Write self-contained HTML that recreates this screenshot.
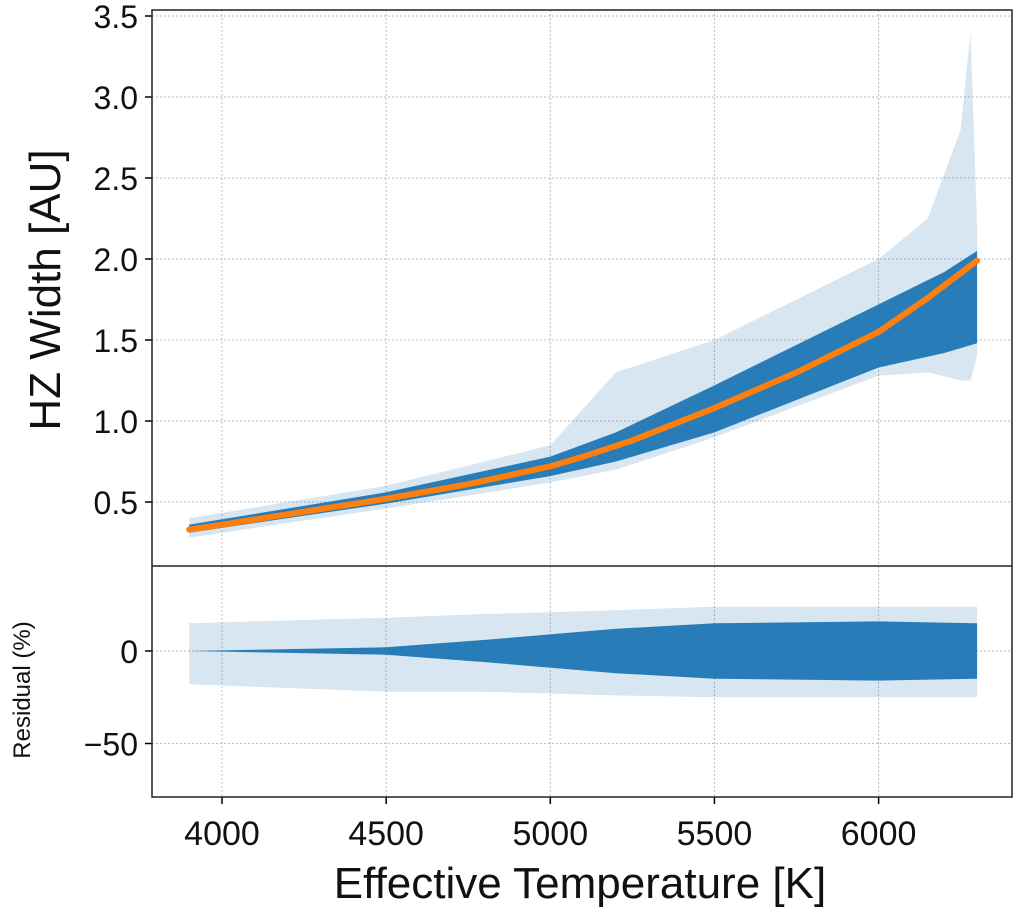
<!DOCTYPE html>
<html><head><meta charset="utf-8"><style>
body{margin:0;background:#fff;font-family:"Liberation Sans",sans-serif}
</style></head><body>
<svg id="c" width="1020" height="916" xmlns="http://www.w3.org/2000/svg" font-family="Liberation Sans, sans-serif"></svg>
<script>
const xTicks=[4000,4500,5000,5500,6000];
const yTicks=[0.5,1.0,1.5,2.0,2.5,3.0,3.5];
const rTicks=[0,-50];
const fitT=[3900,4000,4250,4500,4750,5000,5100,5250,5500,5750,6000,6150,6300];
const fitV=[0.33,0.36,0.44,0.52,0.61,0.72,0.78,0.88,1.08,1.30,1.55,1.76,1.99];
const coreT=[3900,4500,5000,5200,5500,6000,6200,6300];
const coreLo=[0.31,0.49,0.66,0.75,0.93,1.33,1.42,1.48];
const coreHi=[0.36,0.56,0.78,0.93,1.22,1.72,1.92,2.05];
const envT=[3900,4500,5000,5200,5500,6000,6150,6250,6280,6300];
const envLo=[0.28,0.46,0.62,0.70,0.90,1.28,1.30,1.25,1.25,1.40];
const envHi=[0.40,0.60,0.85,1.30,1.50,2.00,2.25,2.80,3.40,2.20];
const resT=[3900,4500,4800,5200,5500,6000,6300];
const resCoreLo=[0,-2,-6,-12,-15,-16,-15];
const resCoreHi=[0,2,6,12,15,16,15];
const resEnvLo=[-18,-22,-22,-24,-25,-25,-25];
const resEnvHi=[15,18,20,22,24,24,24];

const X=t=>222+(t-4000)*0.3283;
const Y=v=>259-(v-2)*162;
const R=v=>651-v*1.85;
const svg=document.getElementById('c');
const NS='http://www.w3.org/2000/svg';
function el(tag,attrs,name,parent){const e=document.createElementNS(NS,tag);for(const k in attrs)e.setAttribute(k,attrs[k]);


(parent||svg).appendChild(e);return e;}
const L=152,Rt=1012,T0=10,M=566,B=797;
xTicks.forEach(t=>{
 el('line',{x1:X(t),x2:X(t),y1:T0,y2:B,stroke:'#bbb','stroke-dasharray':'2,2','stroke-width':1},'x-grid');
 el('line',{x1:X(t),x2:X(t),y1:B,y2:B+7,stroke:'#000','stroke-width':1.5},'x-tick');
 const tx=el('text',{x:X(t),y:B+48,'font-size':34,'text-anchor':'middle',fill:'#111'},'x-tick-label');tx.textContent=t;
});
yTicks.forEach(v=>{
 el('line',{x1:L,x2:Rt,y1:Y(v),y2:Y(v),stroke:'#bbb','stroke-dasharray':'2,2','stroke-width':1},'y-grid');
 el('line',{x1:L-7,x2:L,y1:Y(v),y2:Y(v),stroke:'#000','stroke-width':1.5},'y-tick');
 const tx=el('text',{x:L-14,y:Y(v)+12,'font-size':32,'text-anchor':'end',fill:'#111'},'y-tick-label');tx.textContent=v.toFixed(1);
});
rTicks.forEach(v=>{
 el('line',{x1:L,x2:Rt,y1:R(v),y2:R(v),stroke:'#bbb','stroke-dasharray':'2,2','stroke-width':1},'residual-grid');
 el('line',{x1:L-7,x2:L,y1:R(v),y2:R(v),stroke:'#000','stroke-width':1.5},'residual-tick');
 const tx=el('text',{x:L-14,y:R(v)+12,'font-size':32,'text-anchor':'end',fill:'#111'},'residual-tick-label');tx.textContent=v===0?'0':'\u2212'+Math.abs(v);
});
function band(T,lo,hi,f){let p=T.map((t,i)=>X(t)+','+f(hi[i]));for(let i=T.length-1;i>=0;i--)p.push(X(T[i])+','+f(lo[i]));return p.join(' ');}
el('polygon',{points:band(envT,envLo,envHi,Y),fill:'#1f77b4','fill-opacity':0.18},'scatter-envelope');
el('polygon',{points:band(coreT,coreLo,coreHi,Y),fill:'#1f77b4','fill-opacity':0.95},'scatter-core');
el('polyline',{points:fitT.map((t,i)=>X(t)+','+Y(fitV[i])).join(' '),fill:'none',stroke:'#ff7f0e','stroke-width':6,'stroke-linecap':'round','stroke-linejoin':'round'},'fit-line');
el('polygon',{points:band(resT,resEnvLo,resEnvHi,R),fill:'#1f77b4','fill-opacity':0.18},'residual-envelope');
el('polygon',{points:band(resT,resCoreLo,resCoreHi,R),fill:'#1f77b4','fill-opacity':0.95},'residual-core');
el('rect',{x:L,y:T0,width:Rt-L,height:B-T0,fill:'none',stroke:'#222','stroke-width':1.5},'axes-frame');
el('line',{x1:L,x2:Rt,y1:M,y2:M,stroke:'#222','stroke-width':1.5},'panel-divider');
let t=el('text',{x:580,y:898,'font-size':44,'text-anchor':'middle',fill:'#111'},'x-axis-title');t.textContent='Effective Temperature [K]';
t=el('text',{x:0,y:0,'font-size':44,'text-anchor':'middle',fill:'#111',transform:'translate(60,290) rotate(-90)'},'y-axis-title');t.textContent='HZ Width [AU]';
t=el('text',{x:0,y:0,'font-size':24,'text-anchor':'middle',fill:'#111',transform:'translate(30,690) rotate(-90)'},'residual-axis-title');t.textContent='Residual (%)';
</script>
</body></html>
